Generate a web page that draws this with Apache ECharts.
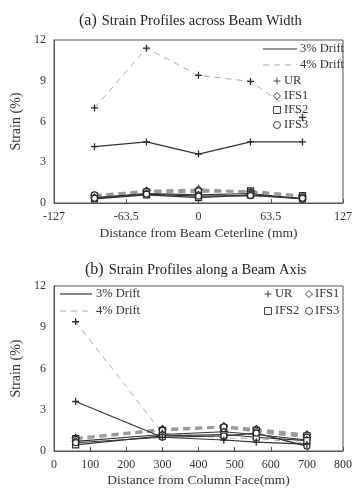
<!DOCTYPE html>
<html>
<head>
<meta charset="utf-8">
<script src="https://cdn.jsdelivr.net/npm/echarts@6/dist/echarts.min.js"></script>
<style>
html,body{margin:0;padding:0;background:#fff}
#main{width:355px;height:493px}
</style>
</head>
<body>
<div id="main"></div>
<script>
// (a) across beam width
var posA = [-91.4, -45.7, 0, 45.7, 91.4];
var a3UR = [4.15, 4.5, 3.6, 4.5, 4.5];
var a3IFS1 = [0.4, 0.7, 0.6, 0.7, 0.3];
var a3IFS2 = [0.3, 0.6, 0.4, 0.6, 0.3];
var a3IFS3 = [0.35, 0.65, 0.5, 0.55, 0.35];
var a4UR = [7.0, 11.4, 9.4, 8.95, 6.3];
var a4IFS1 = [0.55, 0.9, 1.0, 0.85, 0.5];
var a4IFS2 = [0.5, 0.8, 0.8, 0.9, 0.55];
var a4IFS3 = [0.6, 0.85, 0.9, 0.8, 0.45];

// (b) along beam axis
var posB = [60, 300, 470, 560, 700];
var b3UR = [3.6, 1.0, 0.8, 0.65, 0.5];
var b3IFS1 = [0.7, 1.2, 1.4, 1.2, 0.8];
var b3IFS2 = [0.45, 1.1, 1.2, 1.0, 0.75];
var b3IFS3 = [0.6, 1.0, 1.1, 1.3, 0.35];
var b4UR = [9.4, 1.3, 0.95, 0.9, 0.6];
var b4IFS1 = [0.95, 1.6, 1.8, 1.6, 1.2];
var b4IFS2 = [0.9, 1.5, 1.7, 1.5, 1.1];
var b4IFS3 = [0.85, 1.5, 1.75, 1.4, 1.0];

var ticksA = [-127, -63.5, 0, 63.5, 127];
var yTicks = [0, 3, 6, 9, 12];

var serif = 'Liberation Serif';
var dark = '#2a2a2a';
var plusPath = 'path://M0,5L10,5M5,0L5,10';
var marks = {
  UR: {symbol: plusPath, size: 7},
  IFS1: {symbol: 'diamond', size: 7},
  IFS2: {symbol: 'rect', size: 6},
  IFS3: {symbol: 'circle', size: 6}
};

function mk(name, idx, xs, ys, drift, mark) {
  var m = marks[mark];
  var line;
  if (drift == 3) line = {color: '#333', width: 1.2, type: 'solid'};
  else if (mark == 'UR') line = {color: '#aaa', width: 1, type: [6, 5]};
  else line = {color: '#9a9a9a', width: 2, type: [7, 5]};
  return {
    name: name, type: 'line', xAxisIndex: idx, yAxisIndex: idx,
    data: xs.map(function (x, i) { return [x, ys[i]]; }),
    symbol: m.symbol, symbolSize: m.size, showSymbol: true,
    lineStyle: line,
    itemStyle: {color: mark == 'UR' ? 'none' : '#fff', borderColor: dark, borderWidth: mark == 'UR' ? 1.3 : 1.2},
    z: drift == 3 ? 3 : 2,
    animation: false
  };
}

var series = [
  mk('a4IFS1', 0, posA, a4IFS1, 4, 'IFS1'),
  mk('a4IFS2', 0, posA, a4IFS2, 4, 'IFS2'),
  mk('a4IFS3', 0, posA, a4IFS3, 4, 'IFS3'),
  mk('a4UR', 0, posA, a4UR, 4, 'UR'),
  mk('a3IFS1', 0, posA, a3IFS1, 3, 'IFS1'),
  mk('a3IFS2', 0, posA, a3IFS2, 3, 'IFS2'),
  mk('a3IFS3', 0, posA, a3IFS3, 3, 'IFS3'),
  mk('a3UR', 0, posA, a3UR, 3, 'UR'),
  mk('b4IFS1', 1, posB, b4IFS1, 4, 'IFS1'),
  mk('b4IFS2', 1, posB, b4IFS2, 4, 'IFS2'),
  mk('b4IFS3', 1, posB, b4IFS3, 4, 'IFS3'),
  mk('b4UR', 1, posB, b4UR, 4, 'UR'),
  mk('b3IFS1', 1, posB, b3IFS1, 3, 'IFS1'),
  mk('b3IFS2', 1, posB, b3IFS2, 3, 'IFS2'),
  mk('b3IFS3', 1, posB, b3IFS3, 3, 'IFS3'),
  mk('b3UR', 1, posB, b3UR, 3, 'UR')
];

var lblStyle = {fontFamily: serif, fontSize: 12, color: '#333'};
function xAx(idx, min, max, interval, name, gap) {
  return {
    type: 'value', gridIndex: idx, min: min, max: max, interval: interval,
    name: name, nameLocation: 'middle', nameGap: gap,
    nameTextStyle: {fontFamily: serif, fontSize: 13.5, color: '#333'},
    axisLine: {show: true, onZero: false, lineStyle: {color: '#555'}},
    axisTick: {show: true, inside: true, length: 4, lineStyle: {color: '#555'}},
    axisLabel: Object.assign({margin: 8, formatter: function (v) { return String(v); }}, lblStyle),
    splitLine: {show: false}
  };
}
function yAx(idx) {
  return {
    type: 'value', gridIndex: idx, min: yTicks[0], max: yTicks[yTicks.length - 1], interval: 3,
    name: 'Strain (%)', nameLocation: 'middle', nameGap: 22,
    nameTextStyle: {fontFamily: serif, fontSize: 14, color: '#333'},
    axisLine: {show: true, onZero: false, lineStyle: {color: '#555'}},
    axisTick: {show: false},
    axisLabel: Object.assign({margin: 8}, lblStyle),
    splitLine: {show: false}
  };
}

// legend drawn with graphic primitives
var g = [];
function txt(x, y, s) {
  g.push({type: 'text', left: x, top: y - 7, style: {text: s, fontFamily: serif, fontSize: 12.5, fill: '#333'}, z: 10});
}
function seg(x1, x2, y, dashed) {
  g.push({type: 'line', shape: {x1: x1, y1: y, x2: x2, y2: y}, style: dashed ? {stroke: '#aaa', lineWidth: 1, lineDash: [6, 5]} : {stroke: '#333', lineWidth: 1.2}, z: 10});
}
function sym(kind, x, y) {
  var st = {stroke: '#444', lineWidth: 1, fill: '#fff'};
  if (kind == 'UR') {
    g.push({type: 'line', shape: {x1: x - 3.5, y1: y, x2: x + 3.5, y2: y}, style: st, z: 10});
    g.push({type: 'line', shape: {x1: x, y1: y - 3.5, x2: x, y2: y + 3.5}, style: st, z: 10});
  } else if (kind == 'IFS1') {
    g.push({type: 'polygon', shape: {points: [[x, y - 3.5], [x + 3.5, y], [x, y + 3.5], [x - 3.5, y]]}, style: st, z: 10});
  } else if (kind == 'IFS2') {
    g.push({type: 'rect', shape: {x: x - 3.5, y: y - 3.5, width: 7, height: 7}, style: st, z: 10});
  } else {
    g.push({type: 'circle', shape: {cx: x, cy: y, r: 3.5}, style: st, z: 10});
  }
}
// (a) legend
seg(263, 297, 49, false); txt(300, 49, '3% Drift');
seg(263, 297, 65, true); txt(300, 65, '4% Drift');
sym('UR', 277, 81); txt(284, 81, 'UR');
sym('IFS1', 277, 96); txt(284, 96, 'IFS1');
sym('IFS2', 277, 110); txt(284, 110, 'IFS2');
sym('IFS3', 277, 125); txt(284, 125, 'IFS3');
// (b) legend
seg(60, 92, 294, false); txt(96, 294, '3% Drift');
seg(60, 92, 311, true); txt(96, 311, '4% Drift');
sym('UR', 268, 294); txt(275, 294, 'UR');
sym('IFS1', 309, 294); txt(315, 294, 'IFS1');
sym('IFS2', 268, 311); txt(275, 311, 'IFS2');
sym('IFS3', 309, 311); txt(315, 311, 'IFS3');

var titleRich = {
  p: {fontFamily: serif, fontSize: 16, color: '#222', fontWeight: 'normal'},
  t: {fontFamily: serif, fontSize: 14.5, color: '#222', fontWeight: 'normal'}
};

var option = {
  backgroundColor: '#fff',
  animation: false,
  title: [
    {text: '{p|(a)} {t|Strain Profiles across Beam Width}', left: 74, top: 7, textStyle: {fontWeight: 'normal', rich: titleRich}},
    {text: '{p|(b)} {t|Strain Profiles along a Beam Axis}', left: 80, top: 256, textStyle: {fontWeight: 'normal', rich: titleRich}}
  ],
  grid: [
    {left: 54, top: 40, width: 294, height: 163, show: true, borderColor: '#555', borderWidth: 1, backgroundColor: 'transparent'},
    {left: 54, top: 286, width: 294, height: 165, show: true, borderColor: '#555', borderWidth: 1, backgroundColor: 'transparent'}
  ],
  xAxis: [
    xAx(0, ticksA[0], ticksA[ticksA.length - 1], 63.5, 'Distance from Beam Ceterline (mm)', 23),
    xAx(1, 0, 800, 100, 'Distance from Column Face(mm)', 22)
  ],
  yAxis: [yAx(0), yAx(1)],
  graphic: g,
  series: series
};

var myChart = echarts.init(document.getElementById('main'));
myChart.setOption(option);
</script>
</body>
</html>
